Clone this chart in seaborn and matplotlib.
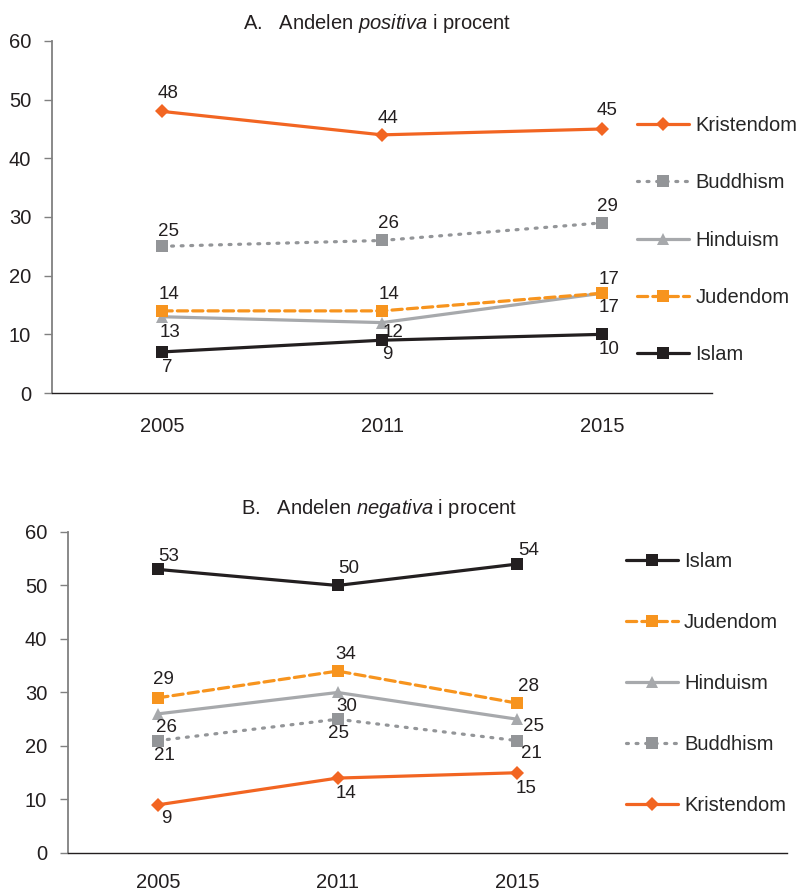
"""
Attitudes toward religions, 2005-2015 (two panels)
"""
import pandas as pd
import numpy as np
import matplotlib
matplotlib.use("Agg")
import matplotlib.pyplot as plt
import seaborn as sns
from matplotlib.lines import Line2D

# Data
years = ["2005", "2011", "2015"]
religions = ["Kristendom", "Buddhism", "Hinduism", "Judendom", "Islam"]

positive = {
    "Kristendom": [48, 44, 45],
    "Buddhism": [25, 26, 29],
    "Hinduism": [13, 12, 17],
    "Judendom": [14, 14, 17],
    "Islam": [7, 9, 10],
}
negative = {
    "Islam": [53, 50, 54],
    "Judendom": [29, 34, 28],
    "Hinduism": [26, 30, 25],
    "Buddhism": [21, 25, 21],
    "Kristendom": [9, 14, 15],
}
legend_order_a = ["Kristendom", "Buddhism", "Hinduism", "Judendom", "Islam"]
legend_order_b = ["Islam", "Judendom", "Hinduism", "Buddhism", "Kristendom"]

# Styles
styles = {
    "Kristendom": dict(color="#F26522", marker="D", ls="-", ms=7.5),
    "Buddhism": dict(color="#939598", marker="s", ls=(0, (0.6, 2.4)), ms=8),
    "Hinduism": dict(color="#A7A9AC", marker="^", ls="-", ms=8),
    "Judendom": dict(color="#F7941E", marker="s", ls=(0, (3.2, 1.6)), ms=8.5),
    "Islam": dict(color="#231F20", marker="s", ls="-", ms=8.5),
}

# label offsets (points) per panel / series / year index
offs_a = {
    "Kristendom": [(4, 13), (4, 12), (4, 13)],
    "Buddhism": [(5, 11), (5, 12), (4, 12)],
    "Hinduism": [(6, -11), (8, -7), (5, -10)],
    "Judendom": [(5, 12), (5, 12), (5, 10)],
    "Islam": [(4, -11), (4, -10), (5, -11)],
}
offs_b = {
    "Islam": [(8, 9), (8, 12), (8, 10)],
    "Judendom": [(4, 13), (6, 12), (8, 12)],
    "Hinduism": [(6, -10), (7, -10), (12, -5)],
    "Buddhism": [(5, -11), (1, -10), (10, -9)],
    "Kristendom": [(6, -10), (6, -11), (6, -11)],
}

sns.set_style("white")
plt.rcParams["font.family"] = ["Liberation Sans", "DejaVu Sans"]
plt.rcParams["mathtext.fontset"] = "custom"
plt.rcParams["mathtext.it"] = "Liberation Sans:italic"
plt.rcParams["mathtext.rm"] = "Liberation Sans"

fig = plt.figure(figsize=(7.98, 8.93), dpi=100)
ax_a = fig.add_axes([0.0652, 0.5599, 0.827, 0.3942])
ax_b = fig.add_axes([0.0852, 0.0448, 0.9008, 0.3595])


def draw_panel(ax, data, offs, xmax, xpad):
    for rel in data:
        st = styles[rel]
        sns.lineplot(x=years, y=data[rel], ax=ax, sort=False, color=st["color"],
                     marker=st["marker"], markersize=st["ms"], linewidth=2.3,
                     markeredgewidth=0, linestyle=st["ls"], dash_capstyle="round")
        for i, v in enumerate(data[rel]):
            ax.annotate(str(v), (i, v), xytext=offs[rel][i], textcoords="offset points",
                        ha="center", va="center", fontsize=13.5, color="#231F20")
    ax.set_xlim(-0.5, xmax)
    ax.set_ylim(0, 60)
    ax.set_yticks(range(0, 61, 10))
    ax.set_xlabel("")
    ax.set_ylabel("")
    for s in ["top", "right"]:
        ax.spines[s].set_visible(False)
    ax.spines["left"].set_color("#808080")
    ax.spines["left"].set_linewidth(1.3)
    ax.spines["bottom"].set_color("#231F20")
    ax.spines["bottom"].set_linewidth(1.0)
    ax.tick_params(axis="y", direction="out", length=6, width=1, color="#808080",
                   pad=9, labelsize=14.5, labelcolor="#231F20", left=True)
    ax.tick_params(axis="x", length=0, pad=xpad, labelsize=14.5, labelcolor="#231F20")


def make_handles(order):
    hs = []
    for rel in order:
        st = styles[rel]
        hs.append(Line2D([], [], color=st["color"], marker=st["marker"], markersize=st["ms"],
                         linewidth=2.3, markeredgewidth=0, linestyle=st["ls"],
                         dash_capstyle="round"))
    return hs


draw_panel(ax_a, positive, offs_a, 2.5, 17)
draw_panel(ax_b, negative, offs_b, 3.5, 14.5)

fig.text(0.472, 0.974, r"A.   Andelen $\it{positiva}$ i procent", ha="center", va="center",
         fontsize=14.5, color="#231F20")
fig.text(0.475, 0.431, r"B.   Andelen $\it{negativa}$ i procent", ha="center", va="center",
         fontsize=14.5, color="#231F20")

fig.legend(make_handles(legend_order_a), legend_order_a, loc="center left",
           bbox_to_anchor=(0.798, 0.731), frameon=False, fontsize=14.5,
           handlelength=2.6, handletextpad=0.3, labelspacing=1.9, borderpad=0,
           borderaxespad=0)
fig.legend(make_handles(legend_order_b), legend_order_b, loc="center left",
           bbox_to_anchor=(0.784, 0.2345), frameon=False, fontsize=14.5,
           handlelength=2.6, handletextpad=0.3, labelspacing=2.08, borderpad=0,
           borderaxespad=0)

fig.savefig("out.png", dpi=100)
